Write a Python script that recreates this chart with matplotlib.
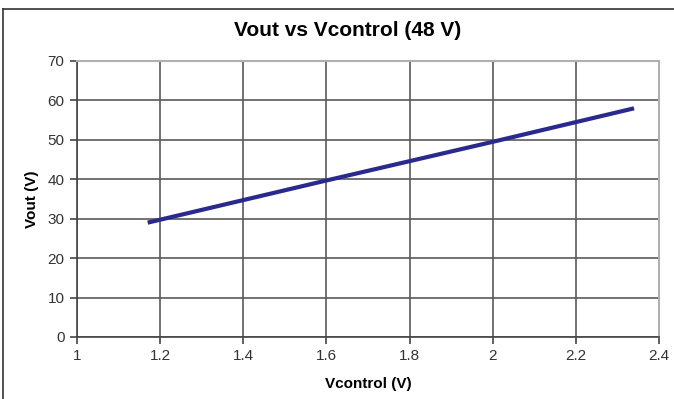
import matplotlib.pyplot as plt
from matplotlib.lines import Line2D

# control voltage (V) and resulting output voltage (V)
vcontrol = [1.17, 1.6, 2.0, 2.34]
vout = [29.0, 39.7, 49.5, 58.0]

x_ticks = [1, 1.2, 1.4, 1.6, 1.8, 2, 2.2, 2.4]
x_labels = ["1", "1.2", "1.4", "1.6", "1.8", "2", "2.2", "2.4"]
y_ticks = [0, 10, 20, 30, 40, 50, 60, 70]

plt.rcParams['font.family'] = ['Liberation Sans', 'DejaVu Sans']

fig = plt.figure(figsize=(6.74, 3.99), dpi=100)
ax = fig.add_axes([77/674, 1 - 337/399, 582/674, 276/399])

ax.plot(vcontrol, vout, color="#2a2a8e", linewidth=3, solid_capstyle="butt")

ax.set_xlim(1, 2.4)
ax.set_ylim(0, 70)
ax.set_xticks(x_ticks)
ax.set_xticklabels(x_labels)
ax.set_yticks(y_ticks)
ax.grid(True, color="#5a5a5a", linewidth=1.2)
ax.set_axisbelow(True)

for side in ("top", "right"):
    ax.spines[side].set_color("#b0b0b0")
    ax.spines[side].set_linewidth(1.5)
for side in ("left", "bottom"):
    ax.spines[side].set_color("#444444")
    ax.spines[side].set_linewidth(1.2)

ax.tick_params(axis="both", direction="out", length=5, width=1.2,
               color="#444444", labelsize=11, labelcolor="#333333", pad=4)

ax.set_xlabel("Vcontrol (V)", fontsize=11, fontweight="bold", labelpad=10)
ax.set_ylabel("Vout (V)", fontsize=11, fontweight="bold", labelpad=6)

fig.text(348/674, 1 - 30/399, "Vout vs Vcontrol (48 V)", ha="center", va="center",
         fontsize=15, fontweight="bold")

# outer chart frame (top and left edges)
fig.add_artist(Line2D([3/674, 1], [1 - 9/399, 1 - 9/399], color="#333333", lw=1.2))
fig.add_artist(Line2D([3/674, 3/674], [0, 1 - 9/399], color="#333333", lw=1.2))

fig.savefig("out.png", dpi=100)
